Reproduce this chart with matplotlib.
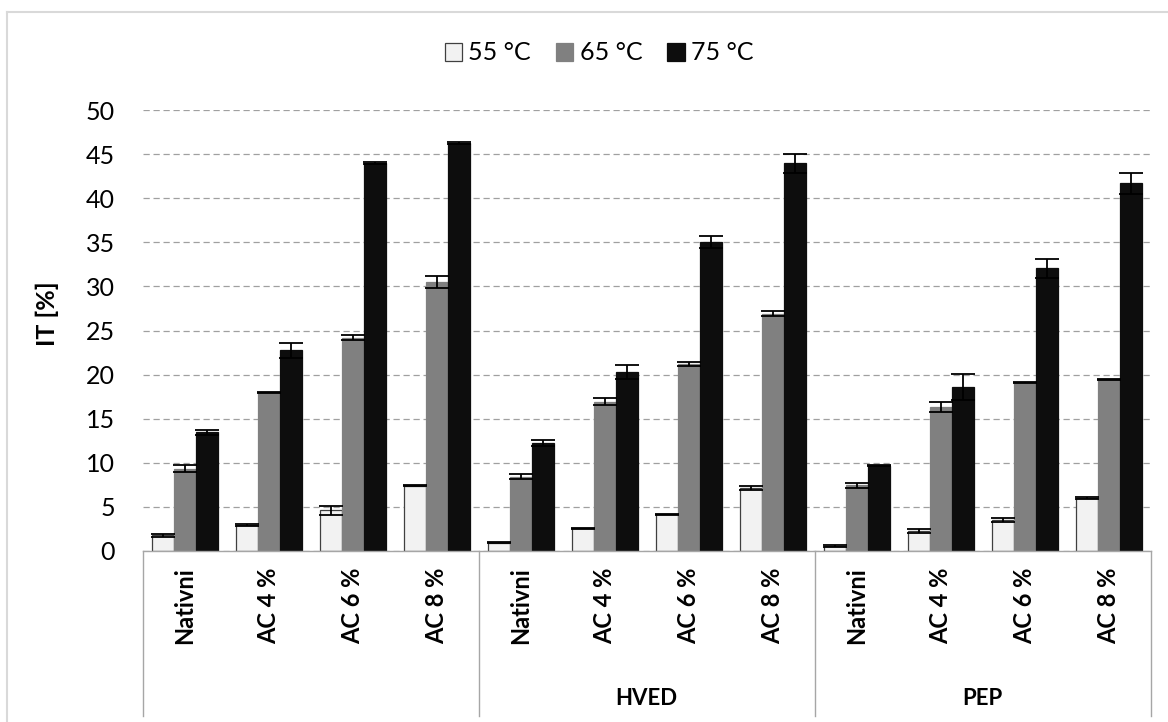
import matplotlib
matplotlib.use("Agg")
import matplotlib.pyplot as plt
import matplotlib.transforms as mtransforms
import numpy as np

plt.rcParams['font.family'] = ['Lato', 'DejaVu Sans']

# data
categories = ["Nativni", "AC 4 %", "AC 6 %", "AC 8 %"] * 3
groups = ["", "HVED", "PEP"]
series = ["55 °C", "65 °C", "75 °C"]

it_55 = [1.75, 2.88, 4.58, 7.39, 0.91, 2.54, 4.13, 7.08, 0.57, 2.23, 3.45, 5.95]
it_65 = [9.3, 18.0, 24.2, 30.5, 8.41, 16.93, 21.2, 26.9, 7.42, 16.29, 19.09, 19.47]
it_75 = [13.45, 22.77, 44.0, 46.25, 12.2, 20.3, 35.03, 43.98, 9.66, 18.6, 32.05, 41.7]

err_55 = [0.15, 0.1, 0.53, 0.05, 0.05, 0.05, 0.05, 0.23, 0.1, 0.23, 0.23, 0.1]
err_65 = [0.38, 0.05, 0.28, 0.68, 0.3, 0.42, 0.27, 0.28, 0.27, 0.57, 0.05, 0.05]
err_75 = [0.27, 0.85, 0.1, 0.1, 0.36, 0.8, 0.66, 1.08, 0.05, 1.5, 1.08, 1.15]

values = [it_55, it_65, it_75]
errors = [err_55, err_65, err_75]
colors = ["#f2f2f2", "#808080", "#0d0d0d"]
edges = ["#404040", "#808080", "#0d0d0d"]

fig = plt.figure(figsize=(11.68, 7.22), dpi=100)
ax = fig.add_axes([142.7 / 1168, 1 - 550.7 / 722, 1008 / 1168, 440.4 / 722])

x = np.arange(len(categories))
w = 0.262
for i in range(3):
    ax.bar(x + (i - 1) * w, values[i], width=w, color=colors[i],
           edgecolor=edges[i], linewidth=0.9, label=series[i], zorder=3)
    ax.errorbar(x + (i - 1) * w, values[i], yerr=errors[i], fmt="none",
                ecolor="black", elinewidth=1.3, capsize=8.5, capthick=1.3, zorder=4)

ax.set_xlim(-0.5, len(categories) - 0.5)
ax.set_ylim(0, 50)
ax.set_yticks(range(0, 51, 5))
ax.tick_params(axis="y", length=0, pad=20, labelsize=18, labelcolor="#000000")
ax.set_xticks([])
ax.grid(axis="y", color="#a0a0a0", linestyle=(0, (5, 3)), linewidth=0.9, zorder=0)
for s in ["top", "right", "left"]:
    ax.spines[s].set_visible(False)
ax.spines["bottom"].set_color("#a6a6a6")
ax.spines["bottom"].set_linewidth(1.0)
ax.spines["bottom"].set_zorder(5)

# multi-level category axis
trans = mtransforms.blended_transform_factory(ax.transData, ax.transAxes)
for b in [-0.5, 3.5, 7.5, 11.5]:
    ax.plot([b, b], [0, -0.375], transform=trans, color="#a6a6a6",
            linewidth=1.0, clip_on=False)
for xi, lab in zip(x, categories):
    ax.text(xi, -0.038, lab, transform=trans, rotation=90, ha="center", va="top",
            fontsize=17, fontweight="bold")
for gi, g in enumerate(groups):
    ax.text(gi * 4 + 1.5, -0.335, g, transform=trans, ha="center", va="center",
            fontsize=16, fontweight="bold")

fig.text(47 / 1168, 1 - 314 / 722, "IT [%]", rotation=90, ha="center", va="center",
         fontsize=18, fontweight="bold")

fig.legend(loc="center", bbox_to_anchor=(599 / 1168, 1 - 53 / 722), ncol=3,
           frameon=False, fontsize=18, handlelength=0.7, handleheight=0.7,
           handletextpad=0.25, columnspacing=1.0)

# outer chart border
fig.add_artist(plt.Line2D([7 / 1168, 7 / 1168], [0, 1 - 12 / 722], color="#d9d9d9",
                          linewidth=1.5, transform=fig.transFigure))
fig.add_artist(plt.Line2D([7 / 1168, 1], [1 - 12 / 722, 1 - 12 / 722], color="#d9d9d9",
                          linewidth=1.5, transform=fig.transFigure))

fig.savefig("out.png", dpi=100)
